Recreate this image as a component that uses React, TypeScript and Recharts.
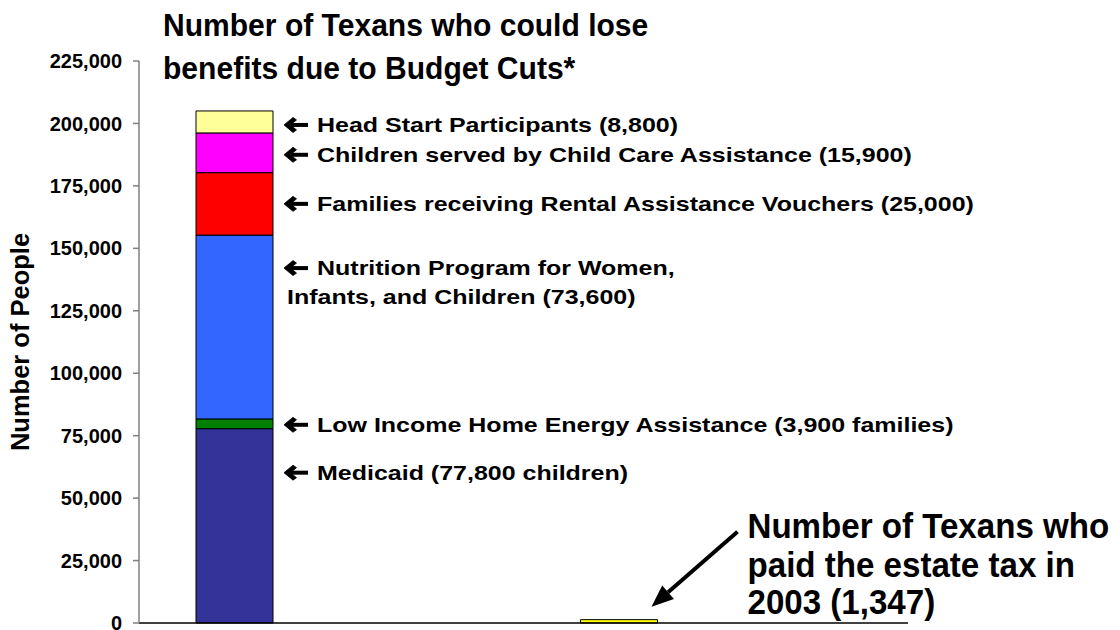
import { BarChart, Bar, XAxis, YAxis } from "recharts";

const categories = ["Could lose benefits due to budget cuts", "Paid the estate tax in 2003"];
const medicaid = [77800, 0];
const energyAssistance = [3900, 0];
const nutrition = [73600, 0];
const rentalVouchers = [25000, 0];
const childCare = [15900, 0];
const headStart = [8800, 0];
const estateTax = [0, 1347];
const spacer = [0, 0];
const yTicks = [0, 25000, 50000, 75000, 100000, 125000, 150000, 175000, 200000, 225000];

const data = categories.map((name, i) => ({
  name,
  medicaid: medicaid[i],
  energyAssistance: energyAssistance[i],
  nutrition: nutrition[i],
  rentalVouchers: rentalVouchers[i],
  childCare: childCare[i],
  headStart: headStart[i],
  estateTax: estateTax[i],
  spacer: spacer[i],
}));

const fmt = (v: number) => v.toLocaleString("en-US");
const FONT = "'Liberation Sans', Arial, sans-serif";

// text drawn a bit wider / narrower than the font, like the stretched text boxes of the slide
function WideText({ x, y, sx, size, children, baseline }: any) {
  return (
    <text
      transform={`translate(${x} ${y}) scale(${sx} 1)`}
      dominantBaseline={baseline}
      fontFamily={FONT}
      fontWeight="bold"
      fontSize={size}
      fill="#000"
    >
      {children}
    </text>
  );
}

function LeftArrow({ x, y }: { x: number; y: number }) {
  // thick left arrow like the Wingdings one in the original
  return (
    <g>
      <rect x={x + 7} y={y - 2} width={17} height={4} fill="#000" />
      <polygon
        points={`${x},${y} ${x + 9},${y - 7.5} ${x + 12.5},${y - 5} ${x + 6.5},${y} ${x + 12.5},${y + 5} ${x + 9},${y + 7.5}`}
        fill="#000"
        stroke="#000"
        strokeWidth={0.8}
        strokeLinejoin="round"
      />
    </g>
  );
}

function segmentLabel(lines: string[], anchor: "center" | "top", dy: number) {
  return (p: any) => {
    const { x, y, width, height } = p;
    if (!height || height <= 0) return null;
    const cy = (anchor === "center" ? y + height / 2 : y) + dy;
    const ax = x + width + 11;
    return (
      <g>
        <LeftArrow x={ax} y={cy} />
        {lines.map((t, k) => (
          <WideText key={k} x={k === 0 ? ax + 33 : ax + 3} y={cy + k * 29} sx={1.19} size={21} baseline="central">
            {t}
          </WideText>
        ))}
      </g>
    );
  };
}

function estateLabel(p: any) {
  const { x, y, width, height } = p;
  if (!height || height <= 0) return null;
  const right = x + width;
  const tip = { x: right - 6, y: y - 13 };
  const tail = { x: right + 80, y: y - 88 };
  const len = Math.hypot(tail.x - tip.x, tail.y - tip.y);
  const ux = (tail.x - tip.x) / len;
  const uy = (tail.y - tip.y) / len;
  const hl = 22;
  const hw = 9;
  const bx = tip.x + ux * hl;
  const by = tip.y + uy * hl;
  const lines = ["Number of Texans who", "paid the estate tax in", `2003 (${fmt(estateTax[1])})`];
  const baselines = [-82, -43, -6];
  return (
    <g>
      <line x1={tail.x} y1={tail.y} x2={bx} y2={by} stroke="#000" strokeWidth={4} />
      <polygon
        points={`${tip.x},${tip.y} ${bx - uy * hw},${by + ux * hw} ${bx + uy * hw},${by - ux * hw}`}
        fill="#000"
      />
      {lines.map((t, k) => (
        <WideText key={k} x={right + 90} y={y + baselines[k]} sx={0.96} size={34.5}>
          {t}
        </WideText>
      ))}
    </g>
  );
}

function YLabel(p: any) {
  const vb = p.viewBox;
  const cx = vb.x + 12;
  const cy = vb.y + vb.height / 2;
  return (
    <text
      x={cx}
      y={cy}
      transform={`rotate(-90 ${cx} ${cy})`}
      textAnchor="middle"
      dominantBaseline="central"
      fontFamily={FONT}
      fontWeight="bold"
      fontSize={25.5}
      fill="#000"
    >
      Number of People
    </text>
  );
}

export default function App() {
  return (
    <div style={{ position: "relative", width: 1112, height: 622, fontFamily: FONT }}>
      <BarChart
        width={1112}
        height={632}
        data={data}
        margin={{ top: 53, right: 212, bottom: 16, left: 0 }}
        barSize={77}
        barGap={116}
      >
        <XAxis dataKey="name" tick={false} tickLine={false} height={1} axisLine={{ stroke: "#000", strokeWidth: 1.5 }} />
        <YAxis
          width={131}
          domain={[0, 225000]}
          ticks={yTicks}
          tickFormatter={fmt}
          interval={0}
          tickSize={6}
          tickMargin={11}
          axisLine={{ stroke: "#808080", strokeWidth: 1.5 }}
          tickLine={{ stroke: "#808080", strokeWidth: 1.5 }}
          tick={{ fill: "#000", fontSize: 20, fontWeight: "bold", fontFamily: FONT }}
          label={{ content: YLabel }}
        />
        <Bar dataKey="medicaid" stackId="a" fill="#333399" stroke="#000" isAnimationActive={false}
          label={segmentLabel([`Medicaid (${fmt(medicaid[0])} children)`], "top", 44)} />
        <Bar dataKey="energyAssistance" stackId="a" fill="#008000" stroke="#000" isAnimationActive={false}
          label={segmentLabel([`Low Income Home Energy Assistance (${fmt(energyAssistance[0])} families)`], "center", 1)} />
        <Bar dataKey="nutrition" stackId="a" fill="#3366FF" stroke="#000" isAnimationActive={false}
          label={segmentLabel(["Nutrition Program for Women,", `Infants, and Children (${fmt(nutrition[0])})`], "top", 33)} />
        <Bar dataKey="rentalVouchers" stackId="a" fill="#FF0000" stroke="#000" isAnimationActive={false}
          label={segmentLabel([`Families receiving Rental Assistance Vouchers (${fmt(rentalVouchers[0])})`], "center", 0)} />
        <Bar dataKey="childCare" stackId="a" fill="#FF00FF" stroke="#000" isAnimationActive={false}
          label={segmentLabel([`Children served by Child Care Assistance (${fmt(childCare[0])})`], "center", 2)} />
        <Bar dataKey="headStart" stackId="a" fill="#FFFF99" stroke="#000" isAnimationActive={false}
          label={segmentLabel([`Head Start Participants (${fmt(headStart[0])})`], "center", 3)} />
        <Bar dataKey="estateTax" stackId="a" fill="#FFFF00" stroke="#000" isAnimationActive={false} label={estateLabel} />
        <Bar dataKey="spacer" stackId="b" fill="none" isAnimationActive={false} />
      </BarChart>
      <svg width={700} height={90} style={{ position: "absolute", left: 0, top: 0 }}>
        <WideText x={155} y={28} sx={0.97} size={31}>Number of Texans who could lose</WideText>
        <WideText x={155} y={71} sx={0.97} size={31}>benefits due to Budget Cuts*</WideText>
      </svg>
    </div>
  );
}
